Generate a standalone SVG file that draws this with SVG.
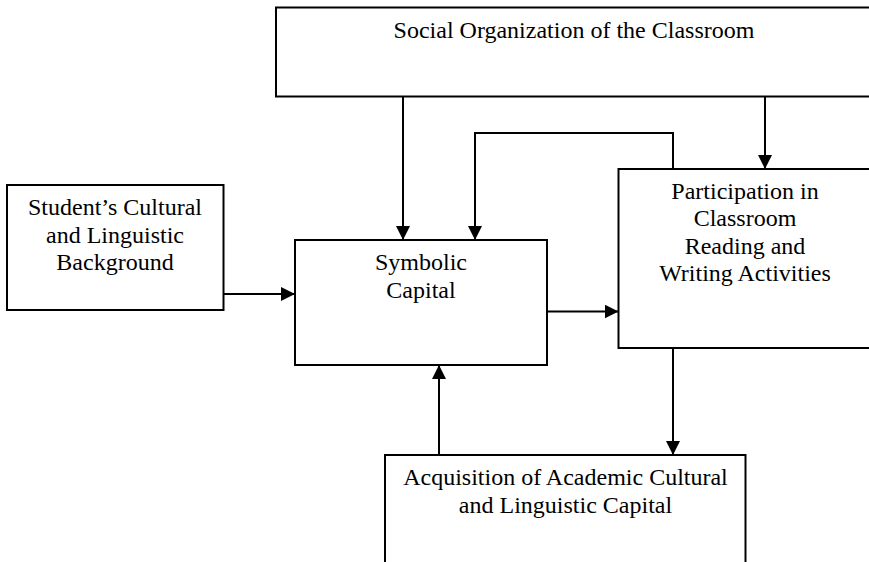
<svg xmlns="http://www.w3.org/2000/svg" width="869" height="562" viewBox="0 0 869 562">
<style>
.box{fill:#fff;stroke:#000;stroke-width:2}
.lbl{font-family:"Liberation Serif","Times New Roman",serif;font-size:24px;fill:#000;text-anchor:middle}
.edge{fill:none;stroke:#000;stroke-width:2}
</style>
<defs>
<marker id="ah" markerUnits="userSpaceOnUse" markerWidth="14" markerHeight="14" refX="14" refY="7" orient="auto">
<path d="M0,0 L14,7 L0,14 z" fill="#000"/>
</marker>
</defs>
<rect width="869" height="562" fill="#fff"/>
<g id="social">
<rect class="box" x="276" y="7.5" width="610" height="89"/>
<text class="lbl" x="574" y="38">Social Organization of the Classroom</text>
</g>
<g id="student">
<rect class="box" x="7" y="185" width="216.5" height="125"/>
<text class="lbl" x="115" y="215">Student’s Cultural</text>
<text class="lbl" x="115" y="242.5">and Linguistic</text>
<text class="lbl" x="115" y="270">Background</text>
</g>
<g id="symbolic">
<rect class="box" x="295" y="240" width="252" height="125"/>
<text class="lbl" x="421" y="270">Symbolic</text>
<text class="lbl" x="421" y="297.5">Capital</text>
</g>
<g id="participation">
<rect class="box" x="618.5" y="169" width="270" height="179"/>
<text class="lbl" x="745" y="199">Participation in</text>
<text class="lbl" x="745" y="226.3">Classroom</text>
<text class="lbl" x="745" y="253.6">Reading and</text>
<text class="lbl" x="745" y="280.9">Writing Activities</text>
</g>
<g id="acquisition">
<rect class="box" x="385" y="455" width="360.5" height="120"/>
<text class="lbl" x="565.5" y="485">Acquisition of Academic Cultural</text>
<text class="lbl" x="565.5" y="513">and Linguistic Capital</text>
</g>
<g id="connectors">
<line class="edge" x1="223.5" y1="294" x2="295" y2="294" marker-end="url(#ah)"/>
<line class="edge" x1="403" y1="96.5" x2="403" y2="240" marker-end="url(#ah)"/>
<line class="edge" x1="765" y1="96.5" x2="765" y2="169" marker-end="url(#ah)"/>
<path class="edge" d="M673,169 V133 H475 V240" marker-end="url(#ah)"/>
<line class="edge" x1="547" y1="311.5" x2="618.5" y2="311.5" marker-end="url(#ah)"/>
<line class="edge" x1="673" y1="348" x2="673" y2="455" marker-end="url(#ah)"/>
<line class="edge" x1="439" y1="455" x2="439" y2="365" marker-end="url(#ah)"/>
</g>
</svg>
